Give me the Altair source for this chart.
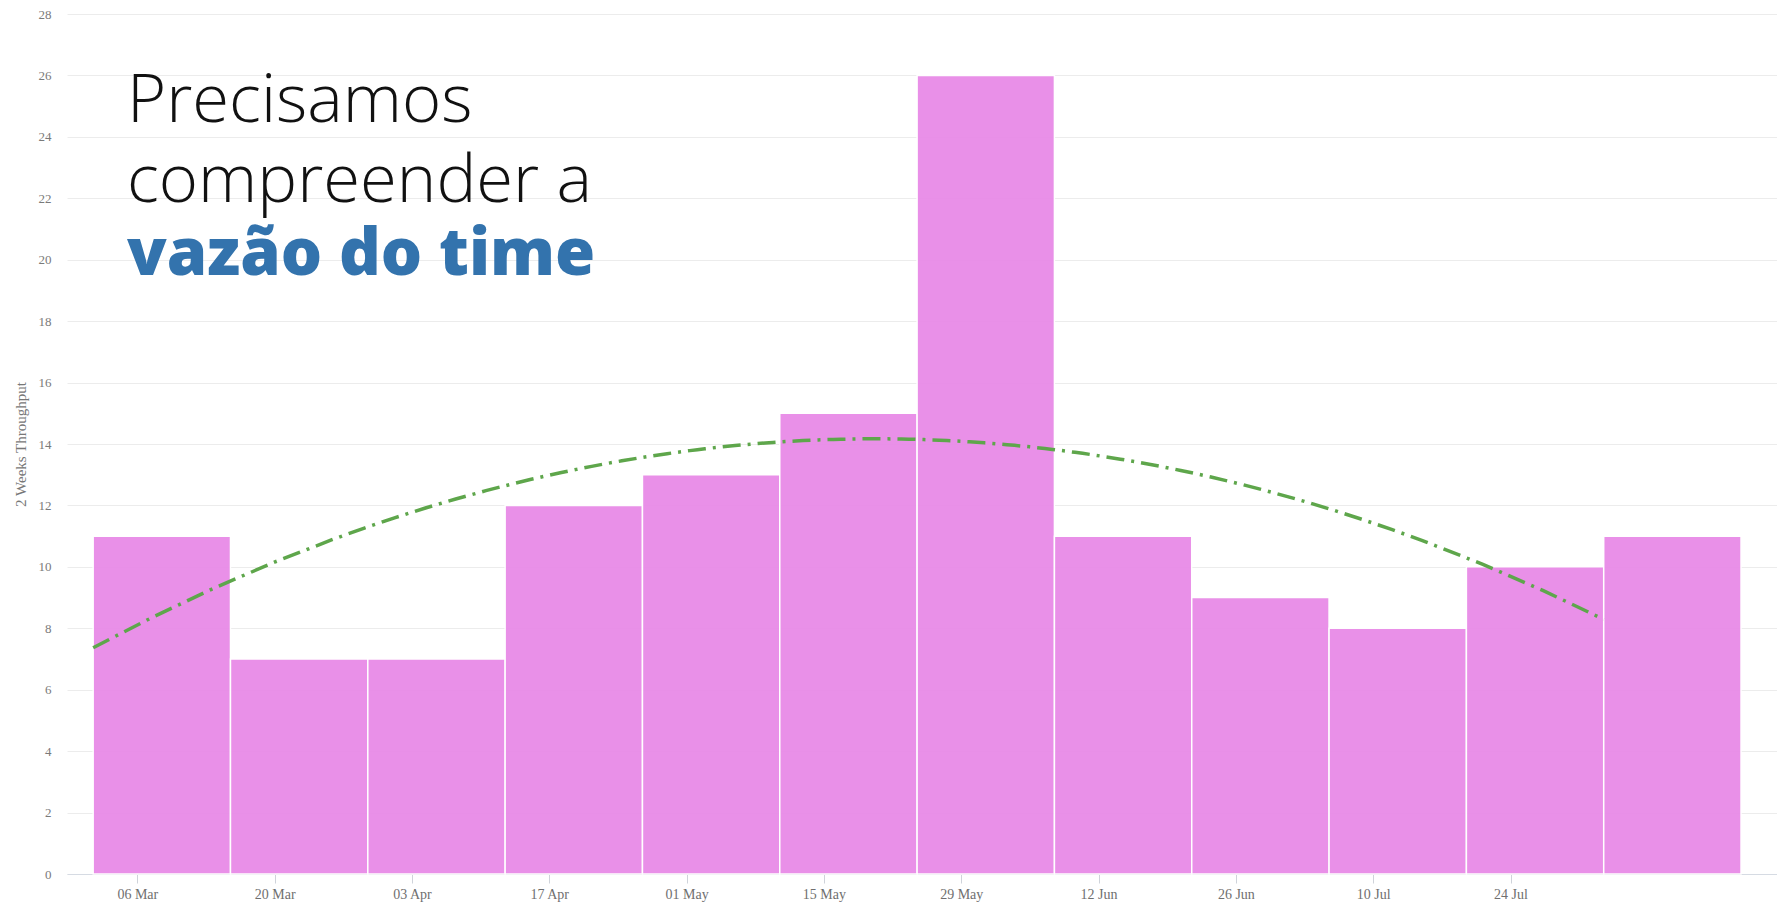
import altair as alt
import pandas as pd

# Two-week throughput buckets (start of each bucket) and item counts
bucket_starts = [
    "2022-03-01T12:00", "2022-03-15T12:00", "2022-03-29T12:00", "2022-04-12T12:00",
    "2022-04-26T12:00", "2022-05-10T12:00", "2022-05-24T12:00", "2022-06-07T12:00",
    "2022-06-21T12:00", "2022-07-05T12:00", "2022-07-19T12:00", "2022-08-02T12:00",
]
bucket_ends = bucket_starts[1:] + ["2022-08-16T12:00"]
throughput = [11, 7, 7, 12, 13, 15, 26, 11, 9, 8, 10, 11]

# Sunday tick marks every two weeks
tick_dates = [(3, 6), (3, 20), (4, 3), (4, 17), (5, 1), (5, 15), (5, 29),
              (6, 12), (6, 26), (7, 10), (7, 24)]

headline_lines = ["Precisamos", "compreender a"]
highlight_line = "vazão do time"

BAR_COLOR = "#E88BE7"
TREND_COLOR = "#5EA64B"
HIGHLIGHT_COLOR = "#3373AD"
AXIS_FONT = "Liberation Serif"

df = pd.DataFrame({"start": bucket_starts, "end": bucket_ends, "value": throughput})

x_scale = alt.Scale(domain=[alt.DateTime(year=2022, month=2, date=26, hours=20),
                            alt.DateTime(year=2022, month=8, date=20, hours=4)])
y_scale = alt.Scale(domain=[0, 28], nice=False)

x_axis = alt.Axis(
    values=[alt.DateTime(year=2022, month=m, date=d) for m, d in tick_dates],
    format="%d %b", title=None, grid=False,
    labelFont=AXIS_FONT, labelFontSize=14, labelColor="#6f6f6f", labelPadding=4,
    tickColor="#cfd3da", tickSize=9, domainColor="#d6dbe3",
)
y_axis = alt.Axis(
    values=list(range(0, 29, 2)), title="2 Weeks Throughput",
    titleFont=AXIS_FONT, titleFontSize=15, titleFontWeight="normal", titleColor="#777777",
    titlePadding=10,
    labelFont=AXIS_FONT, labelFontSize=13, labelColor="#7a7a7a", labelPadding=16,
    ticks=False, domain=False, gridColor="#ececec",
)

base = alt.Chart(df)

bars = base.mark_rect(color=BAR_COLOR, opacity=0.95, stroke="white", strokeWidth=1.5).encode(
    x=alt.X("start:T", scale=x_scale, axis=x_axis),
    x2="end:T",
    y=alt.Y("value:Q", scale=y_scale, axis=y_axis),
    y2=alt.datum(0),
)

trend = (
    base.transform_calculate(t="toNumber(toDate(datum.start))")
    .transform_regression("t", "value", method="poly", order=2)
    .mark_line(color=TREND_COLOR, strokeWidth=3.5, strokeDash=[18, 7, 3, 7])
    .encode(x=alt.X("t:T", scale=x_scale), y=alt.Y("value:Q", scale=y_scale))
)

headline = alt.layer(
    *[
        alt.Chart(pd.DataFrame({"t": [line]})).mark_text(
            align="left", baseline="alphabetic", font="Open Sans", fontWeight=300,
            fontSize=67, color="#111111",
        ).encode(text="t:N", x=alt.value(60), y=alt.value(108 + 80 * i))
        for i, line in enumerate(headline_lines)
    ],
    alt.Chart(pd.DataFrame({"t": [highlight_line]})).mark_text(
        align="left", baseline="alphabetic", font="Open Sans", fontWeight=800,
        fontSize=65, color=HIGHLIGHT_COLOR,
    ).encode(text="t:N", x=alt.value(60), y=alt.value(261)),
)

chart = (
    alt.layer(bars, trend, headline)
    .properties(
        width=1710, height=860, autosize="none",
        padding={"left": 67, "top": 14, "right": 0, "bottom": 28},
        background="white",
    )
    .configure_view(stroke=None)
)

chart.save("out.html", embed_options={"renderer": "svg", "actions": False})
